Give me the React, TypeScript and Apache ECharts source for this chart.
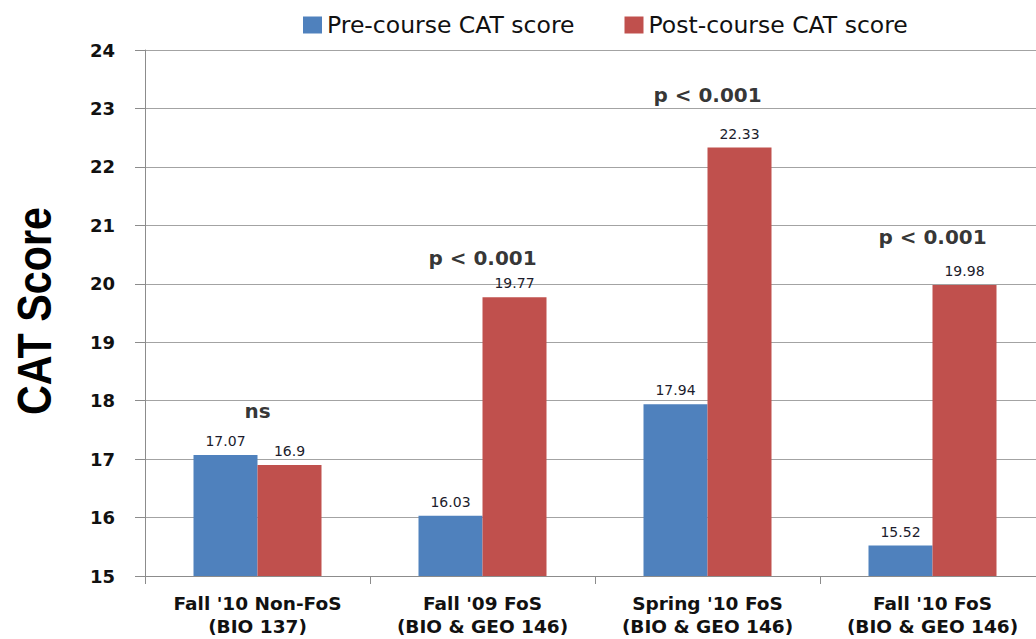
import React, { useEffect, useRef } from "react";
import * as echarts from "echarts";

const categories = [
  "Fall '10 Non-FoS\n(BIO 137)",
  "Fall '09 FoS\n(BIO & GEO 146)",
  "Spring '10 FoS\n(BIO & GEO 146)",
  "Fall '10 FoS\n(BIO & GEO 146)",
];
const preScores = [17.07, 16.03, 17.94, 15.52];
const postScores = [16.9, 19.77, 22.33, 19.98];
const annotationTexts = ["ns", "p < 0.001", "p < 0.001", "p < 0.001"];
const annotationLevels = [17.82, 20.44, 23.23, 20.8];
const seriesNames = ["Pre-course CAT score", "Post-course CAT score"];
const yAxisTitle = "CAT Score";

export default function App() {
  const ref = useRef<HTMLDivElement>(null);
  useEffect(() => {
    if (!ref.current) return;
    const chart = echarts.init(ref.current, null, { renderer: "svg" });
    const gridGray = "#a3a3a3";
    const dataLabel = {
      show: true,
      position: "top",
      distance: 7,
      fontFamily: "DejaVu Sans",
      fontSize: 14,
      color: "#1c1c2c",
    };
    chart.setOption({
      animation: false,
      backgroundColor: "#ffffff",
      legend: {
        data: seriesNames,
        left: 298,
        top: 8,
        itemWidth: 19,
        itemHeight: 17,
        itemGap: 50,
        icon: "rect",
        textStyle: { fontFamily: "DejaVu Sans", fontSize: 23.5, color: "#111" },
      },
      graphic: [
        {
          type: "text",
          x: 34,
          y: 311,
          rotation: Math.PI / 2,
          scaleX: 0.86,
          style: {
            text: yAxisTitle,
            fontFamily: "Liberation Sans",
            fontWeight: "bold",
            fontSize: 48,
            fill: "#000",
            align: "center",
            verticalAlign: "middle",
          },
        },
      ],
      grid: {
        left: 145,
        top: 50,
        width: 900,
        height: 526,
        containLabel: false,
        outerBoundsMode: "none",
      },
      xAxis: {
        type: "category",
        data: categories,
        axisLine: { show: true, lineStyle: { color: "#8c8c8c", width: 1 } },
        axisTick: { show: true, interval: 0, length: 8, lineStyle: { color: "#8c8c8c" } },
        axisLabel: {
          interval: 0,
          margin: 16,
          fontFamily: "DejaVu Sans",
          fontWeight: "bold",
          fontSize: 18.5,
          lineHeight: 23,
          color: "#111",
        },
      },
      yAxis: {
        type: "value",
        min: 15,
        max: 24,
        interval: 1,
        axisLine: { show: true, lineStyle: { color: "#8c8c8c", width: 1 } },
        axisTick: { show: true, length: 10, lineStyle: { color: "#8c8c8c" } },
        axisLabel: {
          margin: 30,
          fontFamily: "DejaVu Sans",
          fontWeight: "bold",
          fontSize: 18,
          color: "#111",
        },
        splitLine: { show: true, lineStyle: { color: gridGray, width: 1 } },
      },
      series: [
        {
          name: seriesNames[0],
          type: "bar",
          data: preScores,
          barWidth: 64,
          barGap: "0%",
          itemStyle: { color: "#4f81bd" },
          label: dataLabel,
        },
        {
          name: seriesNames[1],
          type: "bar",
          data: postScores,
          barWidth: 64,
          barGap: "0%",
          itemStyle: { color: "#c0504d" },
          label: dataLabel,
        },
        {
          name: "annotations",
          type: "scatter",
          symbolSize: 0,
          silent: true,
          data: annotationLevels.map((v, i) => ({
            value: [i, v],
            label: { formatter: annotationTexts[i] },
          })),
          label: {
            show: true,
            position: "inside",
            fontFamily: "DejaVu Sans",
            fontWeight: "bold",
            fontSize: 20,
            color: "#000",
          },
          z: 10,
        },
      ],
    });
    return () => chart.dispose();
  }, []);
  return (
    <div
      ref={ref}
      style={{ position: "fixed", left: 0, top: 0, width: 1036, height: 639 }}
    />
  );
}
